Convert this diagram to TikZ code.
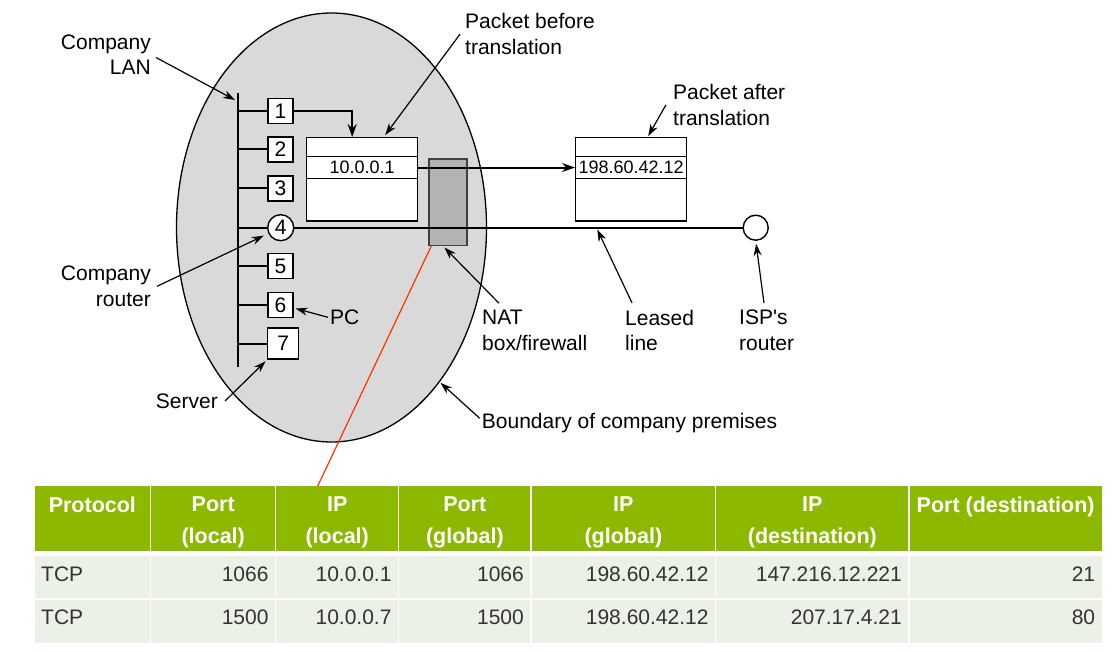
\documentclass[tikz,border=0pt]{standalone}
\usepackage{fontspec}
\setmainfont{Liberation Sans}
\usepackage{xcolor}
\usepackage{tikz}
\usetikzlibrary{positioning,arrows.meta,shapes.geometric}
\definecolor{premisegray}{RGB}{217,217,217}
\definecolor{natgray}{RGB}{179,179,179}
\definecolor{natedge}{RGB}{64,64,64}
\definecolor{linkred}{RGB}{255,51,0}
\definecolor{headgreen}{RGB}{140,185,0}
\definecolor{rowtint}{RGB}{236,241,231}
\definecolor{celltext}{RGB}{51,51,51}
\newcommand{\lblfont}{\fontsize{21}{25.5}\selectfont}
\newcommand{\addrfont}{\fontsize{18}{20}\selectfont}
\newcommand{\headfont}{\fontsize{21.5}{32}\selectfont\bfseries}
\newcommand{\cellfont}{\fontsize{21}{24}\selectfont}
\tikzset{
  premises/.style={ellipse, draw, fill=premisegray, line width=1.3pt,
    minimum width=310pt, minimum height=429pt, inner sep=0pt},
  station/.style={draw, fill=white, line width=1.4pt, minimum size=25pt,
    inner sep=0pt, font=\lblfont},
  pktbox/.style={draw, fill=white, line width=1.4pt, minimum width=111pt,
    minimum height=83.3pt, inner sep=0pt},
  ipfield/.style={draw, line width=1.4pt, minimum width=111pt,
    minimum height=21.6pt, inner sep=0pt, font=\addrfont},
  natbox/.style={draw=natedge, fill=natgray, line width=1.4pt,
    minimum width=38pt, minimum height=86.3pt, inner sep=0pt},
  wire/.style={line width=2pt},
  flow/.style={wire, -{Stealth[length=13pt,width=9pt]}},
  callout/.style={line width=1.2pt, -{Stealth[length=12pt,width=8pt]}},
  labeltext/.style={font=\lblfont, inner sep=2pt},
  headtext/.style={anchor=north, align=center, inner sep=0pt, text=white, font=\headfont},
  celltext/.style={inner sep=0pt, text=celltext, font=\cellfont}
}

\begin{document}
\begin{tikzpicture}[x=1pt,y=-1pt]
    \useasboundingbox (0,0) rectangle (1114,652);

    \node[premises] (premises) at (331.5,227.5) {};
    \node[natbox] (nat) at (448,202.2) {};
    \node[pktbox] (before) at (362.2,179.4) {};
    \node[ipfield, below=19pt of before.north] (beforeip) {10.0.0.1};
    \node[pktbox] (after) at (631.2,179.4) {};
    \node[ipfield, below=19pt of after.north] (afterip) {198.60.42.12};

    \coordinate (bustop) at (237.7,92.7);
    \coordinate (busend) at (237.7,366.7);
    \draw[wire] (bustop) -- (busend);

    \node[station] (d1) at (280.5,111) {1};
    \node[station] (d2) at (280.5,149.5) {2};
    \node[station] (d3) at (280.5,188.5) {3};
    \node[station, circle, minimum size=26pt] (d4) at (280.7,227.7) {4};
    \node[station] (d5) at (280.5,266) {5};
    \node[station] (d6) at (280.5,305) {6};
    \node[station, minimum size=31pt] (d7) at (283.2,343.7) {7};
    \foreach \d in {d1,d2,d3,d4,d5,d6,d7}
      \draw[wire] (bustop |- \d.west) -- (\d.west);

    \node[station, circle] (isp) at (755.7,227.7) {};

    \draw[flow] (d1.east) -| ([xshift=-10pt]before.north);
    \draw[flow] (beforeip.east) -- (afterip.west);
    \draw[wire] (d4.east) -- (isp.west);

    \node[labeltext, align=right, anchor=east] (lanlbl) at (153,54.5) {Company\\LAN};
    \coordinate (lanhit) at (235,100);
    \draw[callout] ([shift={(3pt,-3pt)}]lanlbl.east) -- (lanhit);

    \node[labeltext, align=left, anchor=west] (beforelbl) at (463,34.2) {Packet before\\translation};
    \draw[callout] ([xshift=-3pt]beforelbl.west) -- ([xshift=23pt,yshift=2pt]before.north);

    \node[labeltext, align=left, anchor=west] (afterlbl) at (671,104.8) {Packet after\\translation};
    \draw[callout] ([xshift=-5pt]afterlbl.west) -- ([xshift=17pt,yshift=1pt]after.north);

    \node[labeltext, align=right, anchor=east] (routerlbl) at (153,286.3) {Company\\router};
    \draw[callout, shorten >=5pt] ([xshift=4pt]routerlbl.east) -- (d4);

    \node[labeltext, anchor=west] (pclbl) at (328,317.3) {PC};
    \draw[callout, shorten >=2pt] (pclbl.west) -- ([yshift=-3pt]d6.east);

    \node[labeltext, anchor=east] (serverlbl) at (220,401) {Server};
    \draw[callout, shorten >=2pt] ([xshift=5pt]serverlbl.east) -- (d7.south west);

    \node[labeltext, align=left, anchor=west] (natlbl) at (480,330.5) {NAT\\box/firewall};
    \draw[callout, shorten >=2pt] ([xshift=19pt,yshift=5pt]natlbl.north west) -- ([xshift=-5pt]nat.south);

    \node[labeltext, align=left, anchor=west] (leasedlbl) at (623,330.5) {Leased\\line};
    \coordinate (leasedhit) at (597.3,229.5);
    \draw[callout] ([xshift=9pt,yshift=5pt]leasedlbl.north west) -- (leasedhit);

    \node[labeltext, align=left, anchor=west] (isplbl) at (737,330.5) {ISP\textquotesingle s\\router};
    \draw[callout, shorten >=3pt] ([xshift=27pt,yshift=5pt]isplbl.north west) -- (isp.south);

    \node[labeltext, anchor=west] (boundlbl) at (479.7,423.3) {Boundary of company premises};
    \draw[callout, shorten >=1pt] ([yshift=5pt]boundlbl.west) -- (premises.-55);

    \coordinate (natlink) at (317.6,486.3);
    \draw[linkred, line width=1.2pt] ([xshift=3pt]nat.south west) -- (natlink);

    \foreach \xl/\xr/\txt [count=\c] in {34/150.7/Protocol, 150.7/275.7/{Port\\(local)},
        275.7/398.7/{IP\\(local)}, 398.7/531/{Port\\(global)}, 531/715.7/{IP\\(global)},
        715.7/909/{IP\\(destination)}, 909/1102.3/Port (destination)} {
      \fill[headgreen] (\xl+0.75,486.3) rectangle (\xr-0.75,551.3);
      \fill[rowtint] (\xl+0.75,556.3) rectangle (\xr-0.75,598);
      \fill[rowtint] (\xl+0.75,600) rectangle (\xr-0.75,643);
      \node[headtext] (head\c) at ({(\xl+\xr)/2},496.3) {\txt};
    }

    \node[celltext, anchor=base west] (r1c1) at (41,581.2) {TCP};
    \node[celltext, anchor=base west] (r2c1) at (41,624.8) {TCP};
    \foreach \xr/\val [count=\c from 2] in {275.7/1066, 398.7/10.0.0.1, 531/1066,
        715.7/198.60.42.12, 909/147.216.12.221, 1102.3/21}
      \node[celltext, anchor=base east] (r1c\c) at (\xr-7,581.2) {\val};
    \foreach \xr/\val [count=\c from 2] in {275.7/1500, 398.7/10.0.0.7, 531/1500,
        715.7/198.60.42.12, 909/207.17.4.21, 1102.3/80}
      \node[celltext, anchor=base east] (r2c\c) at (\xr-7,624.8) {\val};
\end{tikzpicture}
\end{document}
